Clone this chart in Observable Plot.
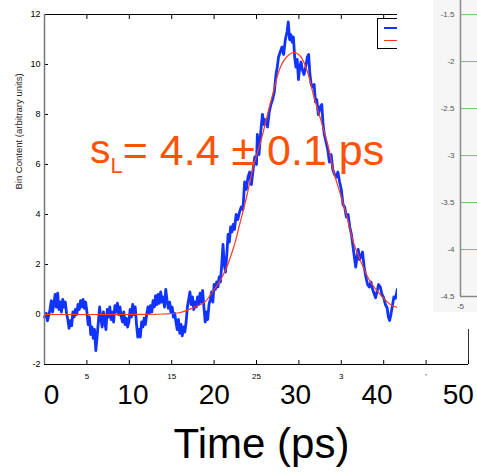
<!DOCTYPE html>
<html><head><meta charset="utf-8">
<script src="https://cdn.jsdelivr.net/npm/d3@7"></script>
<script src="https://cdn.jsdelivr.net/npm/@observablehq/plot@0.6"></script>
<style>
body{margin:0;background:#fff;}
#wrap{position:relative;width:477px;height:473px;overflow:hidden;background:#fff;}
#main{position:absolute;left:0;top:0;}
#legend{position:absolute;left:377px;top:18px;width:70px;height:29px;border:1px solid #000;background:#fff;}
#legend .s{position:absolute;left:6px;width:40px;}
#overlay{position:absolute;left:397px;top:0;width:80px;height:329px;background:#fff;}
#panel{position:absolute;left:36px;top:0;}
</style></head><body>
<div id="wrap"><div id="main"></div>
<div id="legend"><div class="s" style="top:8px;border-top:2.5px solid #1133ff"></div><div class="s" style="top:21px;border-top:1.2px solid #ff3b1f"></div></div>
<div id="overlay"><div id="panel"></div></div></div>
<script>
const font = "Liberation Sans, Arial, Helvetica, sans-serif";

// Blue measured series: [time, bin content]
const blueSeries = [
[0.0,-0.1],[0.2,0.05],[0.35,-0.25],[0.5,-0.05],[0.65,0.2],[0.8,0.55],[0.95,0.1],[1.1,0.4],[1.25,0.8],[1.4,0.3],
[1.55,0.85],[1.7,0.2],[1.85,0.5],[2.0,0.1],[2.15,0.6],[2.3,0.3],[2.45,0.5],[2.6,0.05],[2.75,-0.2],[2.9,-0.55],
[3.05,-0.25],[3.2,-0.45],[3.35,0.1],[3.5,-0.1],[3.65,0.2],[3.8,0.0],[3.95,0.4],[4.1,0.2],[4.25,0.55],[4.4,0.3],
[4.55,0.6],[4.7,0.25],[4.85,0.5],[5.0,0.1],[5.15,-0.4],[5.3,-0.1],[5.45,-0.8],[5.6,-0.5],[5.75,-0.95],[5.9,-0.6],
[6.05,-1.44],[6.2,-0.9],[6.35,-0.3],[6.5,0.3],[6.65,-0.2],[6.8,-0.5],[6.95,0.1],[7.1,-0.3],[7.25,-0.6],[7.4,0.2],
[7.55,-0.1],[7.7,0.3],[7.85,-0.2],[8.0,0.1],[8.15,-0.3],[8.3,0.35],[8.45,0.1],[8.6,0.45],[8.75,0.0],[8.9,0.3],
[9.05,-0.1],[9.2,-0.3],[9.35,0.1],[9.5,-0.4],[9.65,-0.15],[9.8,-0.5],[9.95,-0.3],[10.1,0.2],[10.25,-0.1],[10.4,0.4],
[10.55,0.0],[10.7,0.3],[10.85,-0.4],[11.0,-0.9],[11.15,-0.6],[11.3,-0.9],[11.45,-0.3],[11.6,-0.5],[11.75,-0.15],[11.9,-0.4],
[12.05,0.0],[12.2,0.3],[12.35,0.05],[12.5,0.35],[12.65,0.1],[12.8,0.55],[12.95,0.3],[13.1,0.75],[13.25,0.4],[13.4,0.8],
[13.55,0.45],[13.7,0.9],[13.85,0.5],[14.0,0.7],[14.15,0.3],[14.3,1.0],[14.45,0.55],[14.6,0.25],[14.75,0.5],[14.9,0.1],
[15.05,0.3],[15.2,-0.1],[15.35,0.05],[15.5,-0.3],[15.65,-0.6],[15.8,-0.2],[15.95,-0.75],[16.1,-0.4],[16.25,-0.85],[16.4,-0.5],
[16.55,-0.7],[16.7,-0.3],[16.85,0.3],[17.0,0.6],[17.15,0.9],[17.3,0.4],[17.45,0.7],[17.6,0.2],[17.75,0.5],[17.9,0.3],
[18.05,0.7],[18.2,0.4],[18.35,0.85],[18.5,0.5],[18.65,0.96],[18.8,0.3],[18.95,-0.3],[19.1,0.1],[19.25,-0.2],[19.4,0.4],
[19.55,0.6],[19.7,0.9],[19.85,0.5],[20.0,1.2],[20.15,1.0],[20.3,1.3],[20.45,1.1],[20.6,1.5],[20.75,1.3],[20.9,2.0],
[21.05,2.8],[21.2,2.0],[21.35,1.7],[21.5,2.4],[21.65,3.2],[21.8,2.9],[21.95,3.5],[22.1,3.3],[22.25,3.6],[22.4,3.4],
[22.6,4.0],[22.8,3.8],[23.0,4.1],[23.2,4.3],[23.4,4.2],[23.6,5.3],[23.8,5.0],[24.0,5.5],[24.2,5.7],[24.4,5.2],
[24.6,5.8],[24.8,6.3],[25.0,6.0],[25.1,7.2],[25.3,6.4],[25.5,7.3],[25.7,8.0],[25.9,7.6],[26.1,7.8],[26.3,7.5],
[26.5,8.1],[26.7,8.4],[26.9,8.6],[27.1,8.9],[27.3,9.6],[27.45,9.9],[27.6,10.3],[27.8,10.5],[28.0,10.7],[28.2,10.4],
[28.4,11.0],[28.6,11.3],[28.75,11.7],[28.9,11.0],[29.05,11.2],[29.2,10.9],[29.35,11.1],[29.5,10.3],[29.65,9.9],[29.8,10.2],
[29.95,9.4],[30.1,9.9],[30.25,10.1],[30.4,9.8],[30.6,9.6],[30.8,9.9],[31.0,10.3],[31.15,10.4],[31.3,9.6],[31.45,9.2],
[31.6,9.1],[31.8,9.2],[31.95,8.5],[32.1,8.6],[32.3,8.0],[32.5,8.3],[32.7,8.4],[32.85,7.6],[33.0,7.2],[33.2,6.9],
[33.4,6.6],[33.6,6.1],[33.8,6.4],[34.0,5.8],[34.2,5.6],[34.4,5.5],[34.6,5.7],[34.8,5.3],[35.0,5.0],[35.2,4.4],
[35.4,4.3],[35.6,3.9],[35.8,4.0],[36.0,3.5],[36.2,3.2],[36.35,2.8],[36.5,2.4],[36.7,1.9],[36.85,2.3],[37.0,2.6],
[37.15,2.2],[37.3,2.3],[37.5,2.5],[37.7,1.9],[37.9,1.5],[38.1,1.2],[38.3,1.1],[38.5,1.3],[38.7,1.0],[38.9,0.8],
[39.05,0.67],[39.2,0.9],[39.4,1.2],[39.6,1.1],[39.8,0.8],[40.0,0.67],[40.2,0.4],[40.4,0.27],[40.55,-0.1],[40.7,-0.24],
[40.85,0.0],[41.0,0.3],[41.2,0.7],[41.4,0.65],[41.6,1.0]
];

// Red fitted curve: [time, bin content]
const fitSeries = [
[0,0],[5,0],[10,0],[14,0.02],[16,0.08],[17.6,0.28],[18.9,0.5],[19.6,0.8],[21.1,1.6],[22.3,2.68],
[23.1,3.72],[23.9,4.8],[24.6,5.88],[25.5,6.92],[26.3,8.0],[27.0,8.92],[27.8,9.88],[28.6,10.32],[29.4,10.48],[30.2,10.32],
[31.0,9.72],[31.7,8.8],[32.5,7.88],[33.4,6.8],[34.1,5.72],[34.9,4.8],[35.7,3.88],[36.4,2.92],[37.3,2.12],[38.4,1.32],
[39.6,0.8],[40.8,0.4],[41.6,0.28]
];

const yTicks = [-2, 0, 2, 4, 6, 8, 10, 12];
const xTicks = [0, 5, 10, 15, 20, 25, 30, 35, 40, 45, 50];
const smallLabelPos = [5, 15, 25, 35, 45];
const smallLabelText = ["5", "15", "25", "3", "'"];
const bigLabels = [0, 10, 20, 30, 40, 50];
const panelTicks = [-1.5, -2, -2.5, -3, -3.5, -4, -4.5];
const panelXTicks = [-5];

// calibration between the overlaid "Time (ps)" labels and the plot's own axis
const bigToAxis = d3.scaleLinear([0, 50], [0.83, 48.8]);

const blue = "#1133ff", red = "#ff3b1f", orange = "#ff5208";

const chart = Plot.plot({
  width: 477, height: 473,
  marginLeft: 44, marginRight: 9, marginTop: 14, marginBottom: 109,
  x: {domain: [0, 50], label: null},
  y: {domain: [-2, 12], label: null},
  style: {fontFamily: font, background: "transparent", overflow: "visible", color: "#000"},
  marks: [
    Plot.ruleY([-2], {stroke: "#000"}),
    Plot.ruleY([12], {stroke: "#000"}),
    Plot.ruleX([50], {stroke: "#333"}),
    Plot.axisY({ticks: yTicks, tickSize: 0, tickPadding: 4, fontSize: 9, tickFormat: d => String(d)}),
    Plot.axisY({ticks: yTicks, tickSize: -4, text: null}),
    Plot.axisX({anchor: "top", ticks: xTicks, tickSize: -4, text: null}),
    Plot.axisX({anchor: "bottom", ticks: xTicks, tickSize: -4, text: null}),
    Plot.text(smallLabelPos, {x: d => d, y: -2, text: (d, i) => smallLabelText[i], dy: 12, fontSize: 8}),
    Plot.line(blueSeries, {x: d => d[0], y: d => d[1], stroke: blue, strokeWidth: 2.8, strokeLinejoin: "round"}),
    Plot.line(fitSeries, {x: d => d[0], y: d => d[1], stroke: red, strokeWidth: 1.2, curve: "catmull-rom"}),
    Plot.ruleX([0], {stroke: "#777", strokeWidth: 1.5}),
    Plot.text(bigLabels, {x: d => bigToAxis(d), y: -2, text: d => String(d), dy: 31, fontSize: 28, lineAnchor: "middle"}),
    Plot.text(["Time (ps)"], {frameAnchor: "bottom", dx: 5, dy: 80, fontSize: 42, lineAnchor: "middle"}),
    Plot.text(["Bin Content (arbitrary units)"], {frameAnchor: "left", rotate: -90, dx: -26, fontSize: 9.5, fill: "#222"})
  ]
});
document.getElementById("main").appendChild(chart);

// orange annotation with subscript
const svg = d3.select(chart);
const ann = svg.append("text").attr("x", 90).attr("y", 165).attr("text-anchor", "start")
  .attr("fill", orange).attr("font-family", font);
ann.append("tspan").attr("font-size", 41).attr("dy", -2).text("s");
ann.append("tspan").attr("font-size", 22).attr("dy", 10).text("L");
ann.append("tspan").attr("font-size", 43).attr("dy", -8).text("= 4.4 ± 0.1 ps");

// partially visible neighbouring panel
const panel = Plot.plot({
  width: 44, height: 312,
  marginLeft: 27, marginRight: 0, marginTop: 0, marginBottom: 16,
  x: {domain: [-5, -4.6], label: null},
  y: {domain: [-4.5, -1.35], label: null},
  style: {fontFamily: font, background: "#f6f6f6", overflow: "visible", color: "#555"},
  marks: [
    Plot.gridY(panelTicks.slice(0, 6), {stroke: "#66cc66", strokeOpacity: 1}),
    Plot.ruleY([-4.5], {stroke: "#888", strokeWidth: 1.5}),
    Plot.ruleX([-5], {stroke: "#888", strokeWidth: 1.5}),
    Plot.axisY({ticks: panelTicks, tickSize: 0, tickPadding: 6, fontSize: 8, tickFormat: d => String(d)}),
    Plot.axisX({ticks: panelXTicks, tickSize: 0, tickPadding: 7, fontSize: 8, tickFormat: d => String(d)})
  ]
});
document.getElementById("panel").appendChild(panel);
</script>
</body></html>
